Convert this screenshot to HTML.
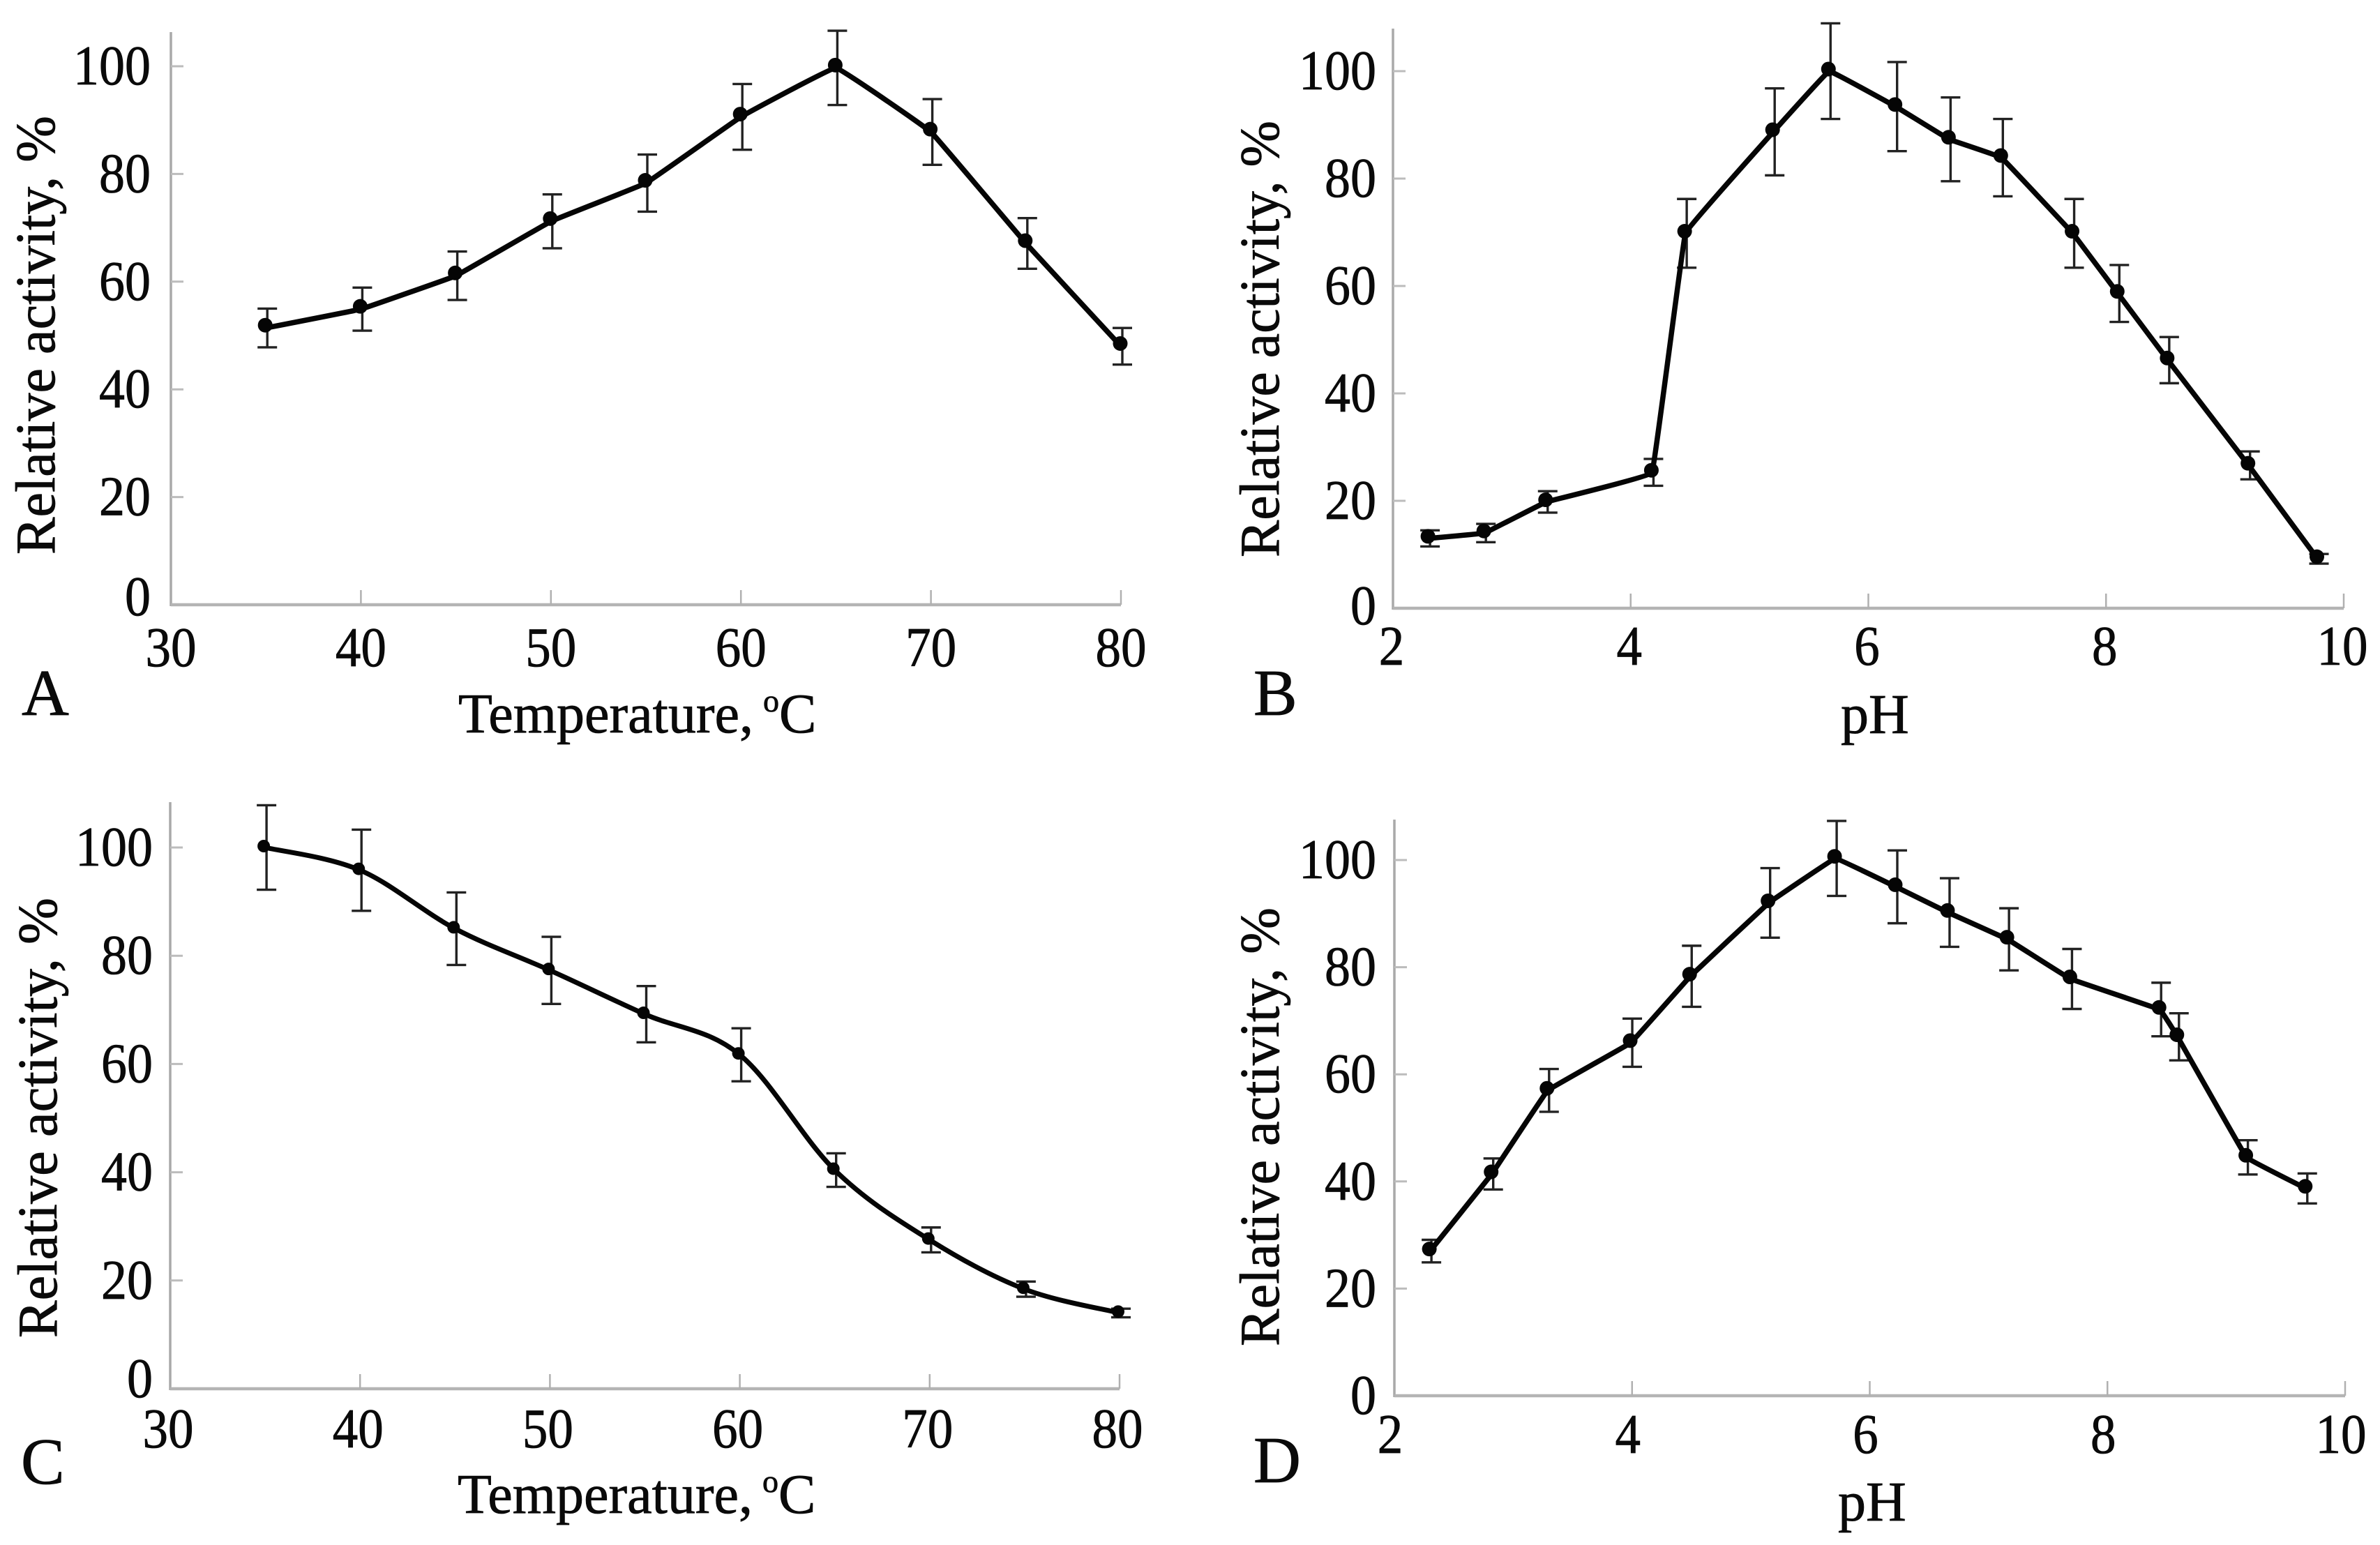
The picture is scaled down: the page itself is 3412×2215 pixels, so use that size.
<!DOCTYPE html>
<html lang="en">
<head>
<meta charset="utf-8">
<title>Relative activity charts</title>
<style>
html,body{margin:0;padding:0;background:#fff;}
svg{display:block;}
text{font-family:"Liberation Serif","DejaVu Serif",serif;fill:#0a0a0a;stroke:#0a0a0a;stroke-width:0.8px;}
</style>
</head>
<body>
<svg id="figure" xmlns="http://www.w3.org/2000/svg" width="3412" height="2215" viewBox="0 0 3412 2215">
<rect x="0" y="0" width="3412" height="2215" fill="#fff"/>
</svg>
<script>
// Tick labels
const temperatureTicks = [30, 40, 50, 60, 70, 80];
const phTicks = [2, 4, 6, 8, 10];
const activityTicks = [0, 20, 40, 60, 80, 100];

// Panel A
const panelATemperature = [35, 40, 45, 50, 55, 60, 65, 70, 75, 80];
const panelAActivity = [51.4, 54.9, 61.1, 71.2, 78.3, 90.6, 99.7, 87.8, 67.1, 48];
const panelAError = [3.6, 4, 4.5, 5, 5.3, 6.1, 6.9, 6.1, 4.7, 3.4];

// Panel B
const panelBPh = [2.3, 2.77, 3.29, 4.18, 4.46, 5.2, 5.67, 6.23, 6.68, 7.12, 7.72, 8.1, 8.52, 9.2, 9.78];
const panelBActivity = [13, 14, 19.8, 25.3, 69.8, 88.7, 100, 93.4, 87.3, 83.9, 69.8, 58.6, 46.2, 26.6, 9.2];
const panelBError = [1.5, 1.7, 2, 2.5, 6.4, 8.1, 8.9, 8.3, 7.8, 7.2, 6.4, 5.3, 4.3, 2.6, 0.9];

// Panel C
const panelCTemperature = [35, 40, 45, 50, 55, 60, 65, 70, 75, 80];
const panelCActivity = [100, 95.8, 85, 77.3, 69.2, 61.7, 40.4, 27.5, 18.4, 14];
const panelCError = [7.8, 7.5, 6.7, 6.2, 5.2, 4.9, 3.1, 2.3, 1.4, 0.8];

// Panel D
const panelDPh = [2.3, 2.82, 3.29, 3.99, 4.49, 5.15, 5.71, 6.22, 6.66, 7.16, 7.69, 8.44, 8.59, 9.17, 9.67];
const panelDActivity = [27, 41.4, 57, 65.9, 78.3, 92, 100.3, 95, 90.2, 85.2, 77.8, 72.1, 67, 44.5, 38.7];
const panelDError = [2.1, 2.9, 4, 4.5, 5.7, 6.5, 7, 6.8, 6.4, 5.8, 5.6, 5, 4.4, 3.2, 2.8];

const SVG_NS = 'http://www.w3.org/2000/svg';
const figure = document.getElementById('figure');

function shape(parent, tag, props) {
  const el = document.createElementNS(SVG_NS, tag);
  for (const key in props) el.setAttribute(key, props[key]);
  parent.appendChild(el);
  return el;
}

function drawPanel(cfg) {
  const g = shape(figure, 'g', {});
  
  

  const x = v => cfg.x0 + (v - cfg.xMin) / (cfg.xMax - cfg.xMin) * (cfg.x1 - cfg.x0);
  const y = v => cfg.y0 - v / 100 * (cfg.y0 - cfg.y100);

  // axes
  const yAxis = shape(g, 'line', {x1: cfg.x0, x2: cfg.x0, y1: cfg.yTop, y2: cfg.y0 + 2, stroke: '#a9a9a9', 'stroke-width': 3.5});
  
  
  const xAxis = shape(g, 'line', {x1: cfg.x0, x2: cfg.x1, y1: cfg.y0, y2: cfg.y0, stroke: '#b4b4b4', 'stroke-width': 4.5});
  
  

  // y ticks & labels
  activityTicks.forEach(t => {
    if (t > 0) {
      const tick = shape(g, 'line', {x1: cfg.x0, x2: cfg.x0 + 18, y1: y(t), y2: y(t), stroke: '#bcbcbc', 'stroke-width': 3});
      
      
    }
    const s = String(t);
    const base = y(t) + (t === 0 ? cfg.zeroDy : 26);
    const label = shape(g, 'text', {x: cfg.yLabelRight, y: base, 'font-size': 80, 'text-anchor': 'end', textLength: s.length * 37, lengthAdjust: 'spacingAndGlyphs'});
    
    
    label.textContent = s;
  });

  // x ticks & labels
  cfg.xTicks.forEach((t, i) => {
    if (i > 0) {
      const tick = shape(g, 'line', {x1: x(t), x2: x(t), y1: cfg.y0 - 21, y2: cfg.y0, stroke: '#b0b0b0', 'stroke-width': 2.5});
      
      
    }
    const s = String(t);
    const label = shape(g, 'text', {x: x(t) + cfg.xLabelDx, y: cfg.xLabelBase, 'font-size': 80, 'text-anchor': 'middle', textLength: s.length * 36.5, lengthAdjust: 'spacingAndGlyphs'});
    
    
    label.textContent = s;
  });

  // titles
  const yTitle = shape(g, 'text', {transform: 'translate(' + cfg.yTitleX + ' ' + cfg.yTitleBottom + ') rotate(-90)', x: 0, y: 0, 'font-size': 80, textLength: cfg.yTitleLen, lengthAdjust: 'spacingAndGlyphs'});
  
  
  yTitle.textContent = 'Relative activity, %';

  const xTitle = shape(g, 'text', {x: cfg.xTitleX, y: cfg.xTitleBase, 'font-size': 80});
  
  
  if (cfg.isTemperature) {
    xTitle.appendChild(document.createTextNode('Temperature, '));
    const deg = shape(xTitle, 'tspan', {'font-size': 46, dy: -30, dx: -6});
    deg.textContent = 'o';
    const unit = shape(xTitle, 'tspan', {dy: 30});
    unit.textContent = 'C';
  } else {
    xTitle.textContent = 'pH';
  }

  const letter = shape(g, 'text', {x: cfg.letterX, y: cfg.letterBase, 'font-size': 94});
  
  
  letter.textContent = cfg.letter;

  // error bars
  cfg.xs.forEach((v, i) => {
    const px = x(v) + 2;
    const top = y(cfg.ys[i] + cfg.errs[i]);
    const bot = y(cfg.ys[i] - cfg.errs[i]);
    const bar = shape(g, 'path', {
      d: 'M' + (px - 14) + ' ' + top + 'H' + (px + 14) + 'M' + px + ' ' + top + 'V' + bot + 'M' + (px - 14) + ' ' + bot + 'H' + (px + 14),
      fill: 'none', stroke: '#222', 'stroke-width': 3.4
    });
    
    
  });

  // series line (spline through the data points)
  const pts = cfg.xs.map((v, i) => [x(v), y(cfg.ys[i])]);
  let d = 'M' + pts[0][0] + ' ' + pts[0][1];
  for (let i = 0; i < pts.length - 1; i++) {
    const p0 = pts[Math.max(i - 1, 0)], p1 = pts[i], p2 = pts[i + 1], p3 = pts[Math.min(i + 2, pts.length - 1)];
    const k = cfg.smooth / 6;
    d += 'C' + (p1[0] + (p2[0] - p0[0]) * k) + ' ' + (p1[1] + (p2[1] - p0[1]) * k) + ' ' +
         (p2[0] - (p3[0] - p1[0]) * k) + ' ' + (p2[1] - (p3[1] - p1[1]) * k) + ' ' + p2[0] + ' ' + p2[1];
  }
  const line = shape(g, 'path', {d: d, fill: 'none', stroke: '#050505', 'stroke-width': cfg.lineWidth, 'stroke-linejoin': 'round'});
  
  

  // markers sit slightly up-left of the line in the reference
  pts.forEach(p => {
    const dot = shape(g, 'circle', {cx: p[0] - cfg.markerDx, cy: p[1] - cfg.markerDy, r: cfg.markerR, fill: '#050505'});
    
    
  });
}

drawPanel({
  id: 'panel-a', letter: 'A', isTemperature: true, smooth: 0.15, lineWidth: 7.5, markerR: 10.5, markerDx: 1, markerDy: 4,
  xs: panelATemperature, ys: panelAActivity, errs: panelAError, xTicks: temperatureTicks,
  xMin: 30, xMax: 80, x0: 245, x1: 1607, y0: 867, y100: 95, yTop: 46,
  yLabelRight: 216, zeroDy: 15, xLabelBase: 955, xLabelDx: 0,
  yTitleX: 78, yTitleBottom: 795, yTitleLen: 629,
  xTitleX: 657, xTitleBase: 1050, letterX: 31, letterBase: 1025
});
drawPanel({
  id: 'panel-b', letter: 'B', isTemperature: false, smooth: 0.1, lineWidth: 7.5, markerR: 10.5, markerDx: 1, markerDy: 3,
  xs: panelBPh, ys: panelBActivity, errs: panelBError, xTicks: phTicks,
  xMin: 2, xMax: 10, x0: 1997, x1: 3360, y0: 872, y100: 102, yTop: 41,
  yLabelRight: 1973, zeroDy: 23, xLabelBase: 953, xLabelDx: -2,
  yTitleX: 1833, yTitleBottom: 799, yTitleLen: 626,
  xTitleX: 2639, xTitleBase: 1051, letterX: 1797, letterBase: 1025
});
drawPanel({
  id: 'panel-c', letter: 'C', isTemperature: true, smooth: 1, lineWidth: 7, markerR: 9, markerDx: 2, markerDy: 2,
  xs: panelCTemperature, ys: panelCActivity, errs: panelCError, xTicks: temperatureTicks,
  xMin: 30, xMax: 80, x0: 244, x1: 1605, y0: 1991, y100: 1215, yTop: 1150,
  yLabelRight: 219, zeroDy: 12, xLabelBase: 2075, xLabelDx: -3,
  yTitleX: 81, yTitleBottom: 1918, yTitleLen: 631,
  xTitleX: 656, xTitleBase: 2169, letterX: 30, letterBase: 2127
});
drawPanel({
  id: 'panel-d', letter: 'D', isTemperature: false, smooth: 0.1, lineWidth: 7.5, markerR: 10.5, markerDx: 1, markerDy: 3,
  xs: panelDPh, ys: panelDActivity, errs: panelDError, xTicks: phTicks,
  xMin: 2, xMax: 10, x0: 1999, x1: 3362, y0: 2001, y100: 1233, yTop: 1175,
  yLabelRight: 1973, zeroDy: 26, xLabelBase: 2083, xLabelDx: -6,
  yTitleX: 1833, yTitleBottom: 1930, yTitleLen: 629,
  xTitleX: 2635, xTitleBase: 2180, letterX: 1797, letterBase: 2125
});
</script>
</body>
</html>
